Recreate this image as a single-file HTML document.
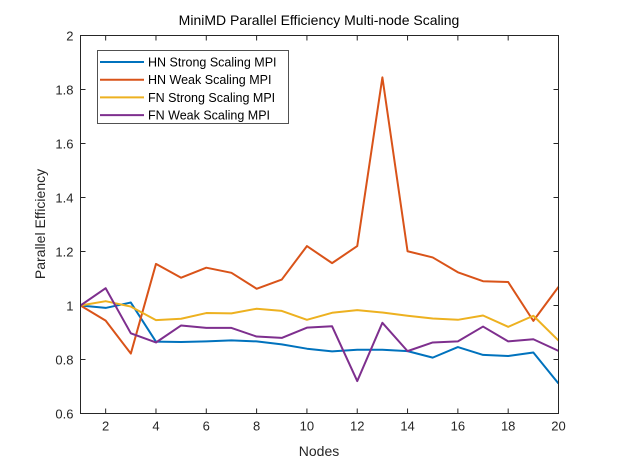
<!DOCTYPE html>
<html><head><meta charset="utf-8"><style>
body{margin:0;background:#fff;}
svg{display:block;font-family:"Liberation Sans",Arial,sans-serif;}
</style></head><body>
<svg id="chart" width="619" height="464" viewBox="0 0 619 464" xmlns="http://www.w3.org/2000/svg">
<rect x="0" y="0" width="619" height="464" fill="#fff"/>
<text x="319" y="25" font-size="14" text-anchor="middle" fill="#000">MiniMD Parallel Efficiency Multi-node Scaling</text>
<g id="ticks"></g>
<g id="series"></g>
<rect x="80.5" y="35.5" width="478" height="378" fill="none" stroke="#262626" stroke-width="1"/>
<text x="319" y="456" font-size="14" text-anchor="middle" fill="#262626">Nodes</text>
<text transform="translate(45,224) rotate(-90)" font-size="14" text-anchor="middle" fill="#262626">Parallel Efficiency</text>
<g id="legend">
<rect x="97.5" y="50.5" width="191" height="73" fill="#fff" stroke="#262626" stroke-width="0.8"/>
</g>
</svg>
<script>
const nodes=[1,2,3,4,5,6,7,8,9,10,11,12,13,14,15,16,17,18,19,20];
const hnStrong=[1.0,0.991,1.011,0.866,0.865,0.867,0.871,0.867,0.856,0.84,0.83,0.836,0.836,0.831,0.807,0.846,0.817,0.813,0.826,0.711];
const hnWeak=[1.0,0.944,0.822,1.154,1.103,1.14,1.121,1.062,1.096,1.22,1.157,1.22,1.845,1.201,1.178,1.123,1.09,1.087,0.943,1.069];
const fnStrong=[1.0,1.016,0.996,0.946,0.951,0.972,0.971,0.988,0.98,0.947,0.973,0.983,0.974,0.962,0.952,0.947,0.963,0.921,0.962,0.87];
const fnWeak=[1.0,1.064,0.897,0.863,0.926,0.917,0.917,0.885,0.88,0.918,0.923,0.72,0.936,0.831,0.863,0.867,0.922,0.867,0.875,0.832];
const xTicks=[2,4,6,8,10,12,14,16,18,20];
const yTicks=[0.6,0.8,1,1.2,1.4,1.6,1.8,2];
const seriesNames=["HN Strong Scaling MPI","HN Weak Scaling MPI","FN Strong Scaling MPI","FN Weak Scaling MPI"];
const colors=["#0072BD","#D95319","#EDB120","#7E2F8E"];
const L=80.5,R=558.5,T=35.5,B=413.5;
const xs=v=>L+(v-1)/(20-1)*(R-L);
const ys=v=>B-(v-0.6)/(2-0.6)*(B-T);
const NS="http://www.w3.org/2000/svg";
const tg=document.getElementById('ticks');
function mk(tag,attrs,parent){const e=document.createElementNS(NS,tag);for(const k in attrs)e.setAttribute(k,attrs[k]);parent.appendChild(e);return e;}
xTicks.forEach(t=>{const x=xs(t);
 const l=mk('path',{d:`M${x},${B}v-5M${x},${T}v5`,stroke:'#262626','stroke-width':1},tg);
 
 
 const tx=mk('text',{x:x,y:B+17,'font-size':13,'text-anchor':'middle',fill:'#262626'},tg);tx.textContent=t;
 
 
});
yTicks.forEach(t=>{const y=ys(t);
 const l=mk('path',{d:`M${L},${y}h5M${R},${y}h-5`,stroke:'#262626','stroke-width':1},tg);
 
 
 const tx=mk('text',{x:L-7,y:y+5,'font-size':13,'text-anchor':'end',fill:'#262626'},tg);tx.textContent=String(t);
 
 
});
const sg=document.getElementById('series');
const lg=document.getElementById('legend');
[hnStrong,hnWeak,fnStrong,fnWeak].forEach((arr,i)=>{
 const d=arr.map((v,j)=>(j?'L':'M')+xs(nodes[j]).toFixed(2)+','+ys(v).toFixed(2)).join('');
 const p=mk('path',{d:d,fill:'none',stroke:colors[i],'stroke-width':2,'stroke-linejoin':'round'},sg);
 
 
 const ly=62+i*17.7;
 const ll=mk('path',{d:`M100,${ly}h44`,stroke:colors[i],'stroke-width':2},lg);
 
 
 const lt=mk('text',{x:148,y:ly+4.5,'font-size':12.5,fill:'#000'},lg);lt.textContent=seriesNames[i];
 
 
});
</script>
</body></html>
